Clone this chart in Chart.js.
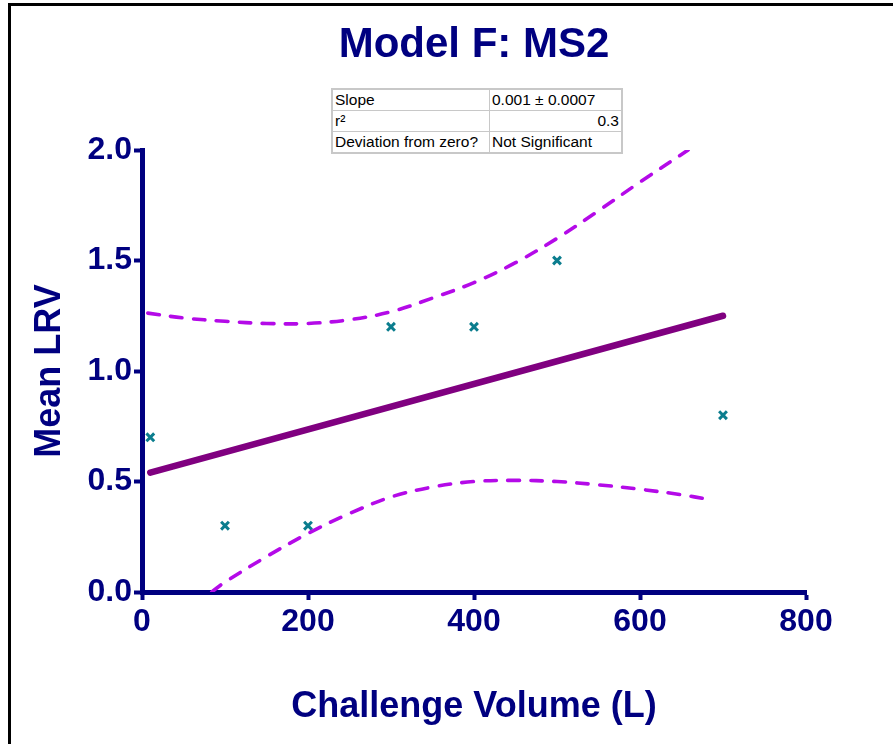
<!DOCTYPE html>
<html>
<head>
<meta charset="utf-8">
<script src="https://cdn.jsdelivr.net/npm/chart.js@4.4.1/dist/chart.umd.min.js"></script>
<style>
  html, body { margin: 0; padding: 0; background: #fff; }
  #wrap { position: relative; width: 893px; height: 744px; overflow: hidden; }
  #c { position: absolute; left: 0; top: 0; }
  #frame { position: absolute; left: 8px; top: 3px; width: 900px; height: 738px;
           border-left: 3px solid #000; border-top: 3px solid #000; border-bottom: 3px solid #000; box-sizing: content-box; pointer-events: none; }
  #stats { position: absolute; left: 331px; top: 88px; border-collapse: collapse;
           font-family: "Liberation Sans", Arial, sans-serif; font-size: 15.5px; color: #000;
           border: 2px solid #c8c8c8; background: #fff; }
  #stats td { border: 1px solid #c8c8c8; height: 20px; padding: 0 2px; line-height: 20px; white-space: nowrap; }
  #stats td.c1 { width: 152px; }
  #stats td.c2 { width: 127px; }
  #stats td.r { text-align: right; }
</style>
</head>
<body>
<div id="wrap">
  <canvas id="c" width="893" height="744"></canvas>
  <div id="frame"></div>
  <table id="stats">
    <tr><td class="c1">Slope</td><td class="c2">0.001 ± 0.0007</td></tr>
    <tr><td class="c1">r²</td><td class="c2 r">0.3</td></tr>
    <tr><td class="c1">Deviation from zero?</td><td class="c2">Not Significant</td></tr>
  </table>
</div>
<script>
// ---- data ----
const volumes   = [10, 100, 200, 300, 400, 500, 700];
const meanLRV   = [0.7, 0.3, 0.3, 1.2, 1.2, 1.5, 0.8];

const fitX      = [10, 700];
const fitY      = [0.54, 1.25];

const upperX    = [7, 50, 100, 150, 200, 250, 300, 350, 400, 450, 500, 550, 600, 658];
const upperY    = [1.262, 1.24, 1.225, 1.215, 1.215, 1.232, 1.268, 1.33, 1.40, 1.49, 1.60, 1.725, 1.855, 2.0];

const lowerX    = [84, 100, 150, 200, 250, 300, 350, 400, 450, 500, 550, 600, 650, 681];
const lowerY    = [0.0, 0.045, 0.16, 0.265, 0.355, 0.43, 0.475, 0.50, 0.505, 0.50, 0.485, 0.465, 0.44, 0.42];

const xTicks    = [0, 200, 400, 600, 800];
const yTicks    = [0.0, 0.5, 1.0, 1.5, 2.0];

const titleText = 'Model F: MS2';
const xTitle    = 'Challenge Volume (L)';
const yTitle    = 'Mean LRV';

// ---- build ----
const toXY = (xs, ys) => xs.map((x, i) => ({ x: x, y: ys[i] }));
const NAVY = '#000080';
const FONT = '"Liberation Sans", Arial, Helvetica, sans-serif';

const bandStyle = {
  type: 'line',
  borderColor: '#B40AE8',
  borderWidth: 3.6,
  borderDash: [11.5, 11.5],
  borderCapStyle: 'round',
  pointRadius: 0,
  fill: false,
  tension: 0.35
};

new Chart(document.getElementById('c'), {
  type: 'scatter',
  data: {
    datasets: [
      Object.assign({ label: 'upper', data: toXY(upperX, upperY) }, bandStyle),
      Object.assign({ label: 'lower', data: toXY(lowerX, lowerY) }, bandStyle),
      {
        label: 'fit',
        type: 'line',
        data: toXY(fitX, fitY),
        borderColor: '#800080',
        borderWidth: 6.5,
        borderCapStyle: 'round',
        pointRadius: 0,
        fill: false
      },
      {
        label: 'data',
        data: toXY(volumes, meanLRV),
        pointStyle: 'crossRot',
        pointRadius: 5.5,
        pointBorderWidth: 3,
        borderColor: '#0B7D8E',
        backgroundColor: '#0B7D8E',
        showLine: false
      }
    ]
  },
  options: {
    responsive: false,
    animation: false,
    devicePixelRatio: 1,
    layout: { padding: { left: 0, right: 87, top: 0, bottom: 0 } },
    plugins: {
      legend: { display: false },
      tooltip: { enabled: false },
      title: {
        display: true,
        text: titleText,
        fullSize: false,
        color: NAVY,
        font: { family: FONT, size: 42, weight: 'bold' },
        padding: { top: 20, bottom: 79.6 }
      }
    },
    scales: {
      x: {
        type: 'linear',
        min: 0, max: 800,
        afterBuildTicks: (s) => { s.ticks = xTicks.map(v => ({ value: v })); },
        afterFit: (s) => { s.height = 152; },
        grid: { display: true, drawOnChartArea: false, drawTicks: true, tickLength: 8, tickWidth: 4, tickColor: NAVY },
        border: { display: true, color: NAVY, width: 5 },
        ticks: {
          color: NAVY, padding: 3,
          font: { family: FONT, size: 32, weight: 'bold' },
          callback: (v) => String(v),
          maxRotation: 0
        },
        title: {
          display: true, text: xTitle, color: NAVY,
          font: { family: FONT, size: 36, weight: 'bold' },
          padding: { top: 0, bottom: 15 }
        }
      },
      y: {
        type: 'linear',
        min: 0, max: 2,
        afterBuildTicks: (s) => { s.ticks = yTicks.map(v => ({ value: v })); },
        afterFit: (s) => { s.width = 142; },
        grid: { display: true, drawOnChartArea: false, drawTicks: true, tickLength: 8, tickWidth: 4, tickColor: NAVY },
        border: { display: true, color: NAVY, width: 5 },
        ticks: {
          color: NAVY, padding: 2,
          font: { family: FONT, size: 32, weight: 'bold' },
          callback: (v) => Number(v).toFixed(1)
        },
        title: {
          display: true, text: yTitle, color: NAVY,
          font: { family: FONT, size: 36, weight: 'bold' },
          padding: { top: 28, bottom: 0 }
        }
      }
    }
  }
});
</script>
</body>
</html>
